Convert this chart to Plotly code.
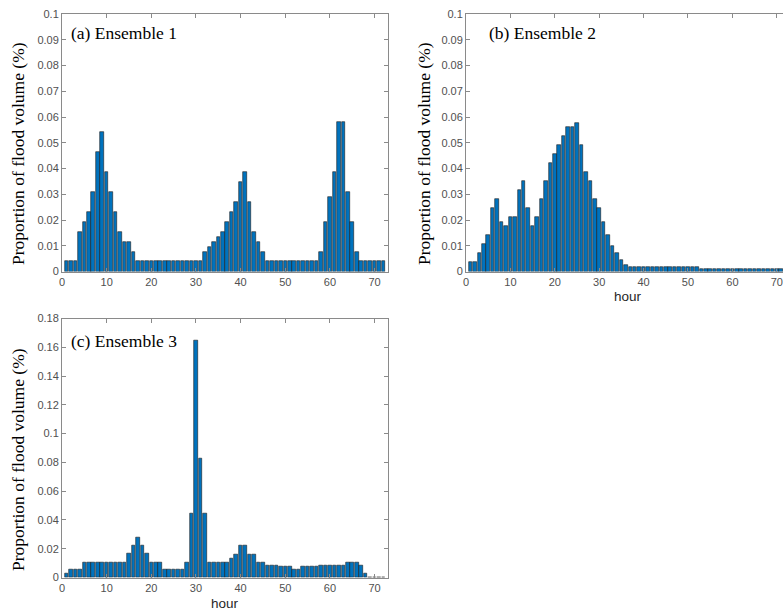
import plotly.graph_objects as go

W, H = 783, 612

hours = list(range(1, 73))

ens1 = [0.0039, 0.0039, 0.0039, 0.0155, 0.0194, 0.0232, 0.031, 0.0465, 0.0542, 0.0387,
        0.031, 0.0232, 0.0155, 0.0116, 0.0116, 0.0077,
        0.0039, 0.0039, 0.0039, 0.0039, 0.0039, 0.0039, 0.0039, 0.0039, 0.0039, 0.0039,
        0.0039, 0.0039, 0.0039, 0.0039, 0.0039,
        0.0077, 0.0097, 0.0116, 0.0135, 0.0155, 0.0194, 0.0232, 0.0271, 0.0348, 0.0387,
        0.0271, 0.0155, 0.0116, 0.0077,
        0.0039, 0.0039, 0.0039, 0.0039, 0.0039, 0.0039, 0.0039, 0.0039, 0.0039, 0.0039,
        0.0039, 0.0039,
        0.0077, 0.0194, 0.029, 0.0387, 0.058, 0.058, 0.031, 0.0194, 0.0077,
        0.0039, 0.0039, 0.0039, 0.0039, 0.0039, 0.0039]

ens2 = [0.0035, 0.0035, 0.0071, 0.0106, 0.0141, 0.0245, 0.0281, 0.0194, 0.0175, 0.021,
        0.021, 0.0316, 0.0351, 0.0245, 0.0175, 0.021, 0.0281, 0.0351, 0.0422, 0.0457,
        0.0492, 0.0526, 0.0561, 0.0561, 0.0578, 0.0492, 0.0387, 0.0351, 0.0281, 0.0245,
        0.0194, 0.0141, 0.0099, 0.0071, 0.0045, 0.0025,
        0.0018, 0.0018, 0.0018, 0.0018, 0.0018, 0.0018, 0.0018, 0.0018,
        0.0018, 0.0018, 0.0018, 0.0018, 0.0018, 0.0018, 0.0018, 0.0018,
        0.0009, 0.0009, 0.0009, 0.0009, 0.0009, 0.0009, 0.0009, 0.0009, 0.0009, 0.0009,
        0.0009, 0.0009, 0.0009, 0.0009, 0.0009, 0.0009, 0.0009, 0.0009, 0.0009, 0.0009]

ens3 = [0.0028, 0.0053, 0.0053, 0.0053,
        0.0107, 0.0107, 0.0107, 0.0107, 0.0107, 0.0107, 0.0107, 0.0107, 0.0107, 0.0107,
        0.0165, 0.0221, 0.0279, 0.0221, 0.0165,
        0.0107, 0.0107, 0.0107,
        0.0053, 0.0053, 0.0053, 0.0053, 0.0053,
        0.0107, 0.0442, 0.1644, 0.0826, 0.0442,
        0.0107, 0.0107, 0.0107, 0.0107, 0.0107,
        0.0133, 0.0163, 0.0219, 0.0219, 0.0163, 0.0163, 0.0105, 0.0105,
        0.0081, 0.0081, 0.0081, 0.0074, 0.0074, 0.0074, 0.0058, 0.0058,
        0.0074, 0.0074, 0.0074, 0.0074,
        0.0081, 0.0081, 0.0081, 0.0081, 0.0081, 0.0081,
        0.0105, 0.0105, 0.0105, 0.0081, 0.0028,
        0, 0, 0, 0]

xticks = [0, 10, 20, 30, 40, 50, 60, 70]
yticks12 = [0, 0.01, 0.02, 0.03, 0.04, 0.05, 0.06, 0.07, 0.08, 0.09, 0.1]
ylabels12 = ["0", "0.01", "0.02", "0.03", "0.04", "0.05", "0.06", "0.07", "0.08", "0.09", "0.1"]
yticks3 = [0, 0.02, 0.04, 0.06, 0.08, 0.1, 0.12, 0.14, 0.16, 0.18]
ylabels3 = ["0", "0.02", "0.04", "0.06", "0.08", "0.1", "0.12", "0.14", "0.16", "0.18"]

titles = ["(a) Ensemble 1", "(b) Ensemble 2", "(c) Ensemble 3"]
ytitle = "Proportion of flood volume (%)"
xtitle = "hour"

BAR = "#0072BD"
EDGE = "#1b1b1b"
AX = "#8a8a8a"
TICKC = "#505050"
SANS = "Liberation Sans, Arial, sans-serif"
SERIF = "Liberation Serif, Times New Roman, serif"

def px(x):
    return x / W

def py(y):
    return 1 - y / H

fig = go.Figure()
for i, vals in enumerate([ens1, ens2, ens3]):
    s = "" if i == 0 else str(i + 1)
    fig.add_trace(go.Bar(x=hours, y=vals, width=0.8, xaxis="x" + s, yaxis="y" + s,
                         marker=dict(color=BAR, line=dict(color=EDGE, width=0.6)),
                         showlegend=False, hoverinfo="x+y"))

def xax(domain, rng, anchor, mirror=True):
    return dict(domain=domain, range=rng, anchor=anchor, tickvals=xticks,
                showline=True, linecolor=AX, linewidth=1, mirror="ticks" if mirror else False,
                ticks="inside", ticklen=4, tickcolor=AX, showgrid=False, zeroline=False,
                automargin=False, ticklabeloverflow="allow",
                tickfont=dict(family=SANS, size=11, color=TICKC), fixedrange=True)

def yax(domain, rng, anchor, tv, tt, mirror=True):
    return dict(domain=domain, range=rng, anchor=anchor, tickvals=tv, ticktext=tt,
                showline=True, linecolor=AX, linewidth=1, mirror="ticks" if mirror else False,
                ticks="inside", ticklen=4, tickcolor=AX, showgrid=False, zeroline=False,
                automargin=False,
                tickfont=dict(family=SANS, size=11, color=TICKC), fixedrange=True)

d1x = [px(62), px(388)]
d1y = [py(271.5), py(14)]
d2x = [px(466), 1.0]
d3y = [py(577.5), py(318.5)]

fig.update_layout(
    width=W, height=H, margin=dict(l=0, r=0, t=0, b=0, pad=0, autoexpand=False),
    paper_bgcolor="white", plot_bgcolor="white", bargap=0,
    xaxis=xax(d1x, [0, 73], "y"),
    yaxis=yax(d1y, [0, 0.1], "x", yticks12, ylabels12),
    xaxis2=xax(d2x, [0, 71.4], "y2"),
    yaxis2=yax(d1y, [0, 0.1], "x2", yticks12, ylabels12, mirror=False),
    xaxis3=xax(d1x, [0, 73], "y3"),
    yaxis3=yax(d3y, [0, 0.18], "x3", yticks3, ylabels3),
)

ann = []
for (x, y, t) in [(69, 33, titles[0]), (487, 33, titles[1]), (69, 341, titles[2])]:
    ann.append(dict(x=px(x), y=py(y), xref="paper", yref="paper", text=t, showarrow=False,
                    xanchor="left", yanchor="middle",
                    font=dict(family=SERIF, size=17.5, color="black")))
for (x, y) in [(18, 154), (424, 154), (18, 460)]:
    ann.append(dict(x=px(x), y=py(y), xref="paper", yref="paper", text=ytitle, showarrow=False,
                    textangle=-90, xanchor="center", yanchor="middle",
                    font=dict(family=SERIF, size=17.5, color="black")))
for (x, y) in [(628, 296), (225, 603)]:
    ann.append(dict(x=px(x), y=py(y), xref="paper", yref="paper", text=xtitle, showarrow=False,
                    xanchor="center", yanchor="middle",
                    font=dict(family=SANS, size=13.5, color="#262626")))
fig.update_layout(annotations=ann)

fig.write_html("out.html", config={"displayModeBar": False},
               post_script="document.body.style.margin='0';document.body.style.overflow='hidden';")
